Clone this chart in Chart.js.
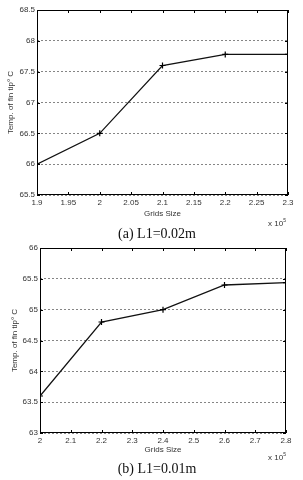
<!DOCTYPE html>
<html>
<head>
<meta charset="utf-8">
<script src="https://cdn.jsdelivr.net/npm/chart.js@4.4.1/dist/chart.umd.min.js"></script>
<style>
  body { margin: 0; background: #fff; width: 303px; height: 480px; position: relative; overflow: hidden; }
  .box { position: absolute; left: 0; width: 303px; }
  .cap { position: absolute; left: 0; width: 314px; text-align: center; font-family: "Liberation Serif", "Times New Roman", serif; font-size: 14px; line-height: 16px; color: #111; }
  .mult { position: absolute; left: 268px; font-family: "Liberation Sans", Arial, sans-serif; font-size: 8px; line-height: 10px; color: #333; }
  .mult sup { font-size: 5px; vertical-align: 4px; }
</style>
</head>
<body>
<div class="box" style="top:0;height:225px"><canvas id="chartA"></canvas></div>
<div class="mult" style="top:215px">x 10<sup>5</sup></div>
<div class="cap" style="top:226px">(a) L1=0.02m</div>

<div class="box" style="top:240px;height:222px"><canvas id="chartB"></canvas></div>
<div class="mult" style="top:449px">x 10<sup>5</sup></div>
<div class="cap" style="top:461px">(b) L1=0.01m</div>

<script>
// --- data (x in units of 10^5) ---
const gridsA = [1.9, 2.0, 2.1, 2.2, 2.3];
const tempA = [66.0, 66.5, 67.6, 67.78, 67.78];
const xTicksA = [1.9, 1.95, 2, 2.05, 2.1, 2.15, 2.2, 2.25, 2.3];
const yTicksA = [65.5, 66, 66.5, 67, 67.5, 68, 68.5];

const gridsB = [2.0, 2.2, 2.4, 2.6, 2.8];
const tempB = [63.6, 64.8, 65.0, 65.4, 65.44];
const xTicksB = [2, 2.1, 2.2, 2.3, 2.4, 2.5, 2.6, 2.7, 2.8];
const yTicksB = [63, 63.5, 64, 64.5, 65, 65.5, 66];

const FONT = '"Liberation Sans", Arial, sans-serif';
const TXT = '#333';

// matlab-ish box with inward tick marks on all four sides
const framePlugin = {
    id: 'frame',
    afterDraw(chart) {
        const { ctx, chartArea: a, scales } = chart;
        const len = 3;
        ctx.save();
        ctx.strokeStyle = '#000';
        ctx.lineWidth = 1;
        ctx.strokeRect(a.left + 0.5, a.top + 0.5, a.right - a.left - 1, a.bottom - a.top - 1);
        ctx.beginPath();
        scales.x.ticks.forEach(t => {
            const px = Math.round(scales.x.getPixelForValue(t.value)) + 0.5;
            ctx.moveTo(px, a.bottom); ctx.lineTo(px, a.bottom - len);
            ctx.moveTo(px, a.top); ctx.lineTo(px, a.top + len);
        });
        scales.y.ticks.forEach(t => {
            const py = Math.round(scales.y.getPixelForValue(t.value)) + 0.5;
            ctx.moveTo(a.left, py); ctx.lineTo(a.left + len, py);
            ctx.moveTo(a.right, py); ctx.lineTo(a.right - len, py);
        });
        ctx.stroke();
        ctx.restore();
    }
};

function makeChart(id, xs, ys, xTicks, yTicks, sizes) {
    const ctx = document.getElementById(id).getContext('2d');
    return new Chart(ctx, {
        type: 'line',
        data: {
            datasets: [{
                data: xs.map((x, i) => ({ x: x, y: ys[i] })),
                borderColor: '#111',
                borderWidth: 1.3,
                pointStyle: 'cross',
                pointRadius: 3,
                pointBorderWidth: 1.2,
                pointBorderColor: '#000',
                tension: 0,
                fill: false
            }]
        },
        options: {
            responsive: true,
            maintainAspectRatio: false,
            animation: false,
            layout: { padding: { left: 0, top: sizes.top, right: sizes.right, bottom: 0 } },
            plugins: { legend: { display: false }, tooltip: { enabled: false } },
            scales: {
                x: {
                    type: 'linear',
                    min: xTicks[0],
                    max: xTicks[xTicks.length - 1],
                    afterBuildTicks: s => { s.ticks = xTicks.map(v => ({ value: v })); },
                    afterFit: s => { s.height = sizes.xh; },
                    grid: { display: false, drawTicks: false },
                    border: { display: false },
                    ticks: {
                        autoSkip: false, maxRotation: 0, padding: 3,
                        color: TXT, font: { family: FONT, size: 8 },
                        callback: v => String(v)
                    },
                    title: {
                        display: true, text: 'Grids Size', color: TXT,
                        font: { family: FONT, size: 8 },
                        padding: { top: 0, bottom: sizes.xtp }
                    }
                },
                y: {
                    min: yTicks[0],
                    max: yTicks[yTicks.length - 1],
                    afterBuildTicks: s => { s.ticks = yTicks.map(v => ({ value: v })); },
                    afterFit: s => { s.width = sizes.yw; },
                    grid: { color: '#666', lineWidth: 0.8, drawTicks: false },
                    border: { display: false, dash: [2, 2] },
                    ticks: {
                        autoSkip: false, padding: 2,
                        color: TXT, font: { family: FONT, size: 8 },
                        callback: v => String(v)
                    },
                    title: {
                        display: true, text: 'Temp. of fin tip° C', color: TXT,
                        font: { family: FONT, size: 8 },
                        padding: { top: sizes.ytp, bottom: 0 }
                    }
                }
            }
        },
        plugins: [framePlugin]
    });
}

makeChart('chartA', gridsA, tempA, xTicksA, yTicksA, { top: 10, right: 15, xh: 30, yw: 37, xtp: 6, ytp: 6 });
makeChart('chartB', gridsB, tempB, xTicksB, yTicksB, { top: 8, right: 17, xh: 29, yw: 40, xtp: 7, ytp: 10 });
</script>
</body>
</html>
